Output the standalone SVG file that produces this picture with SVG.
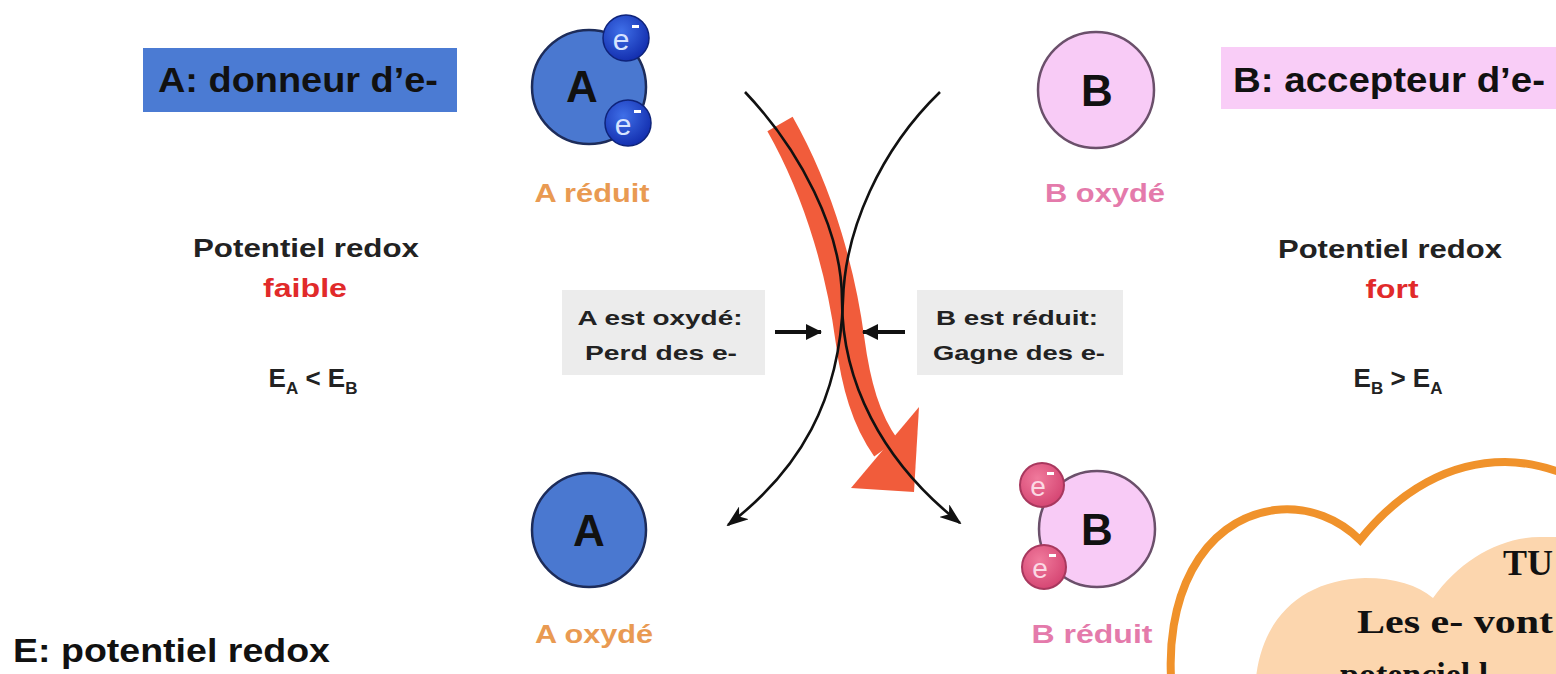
<svg xmlns="http://www.w3.org/2000/svg" width="1556" height="674" viewBox="0 0 1556 674">
  <style>
    .sans { font-family: "Liberation Sans", Arial, sans-serif; font-weight: bold; }
    .serif { font-family: "Liberation Serif", "DejaVu Serif", serif; font-weight: bold; }
    .label { font-size: 35px; fill: #111; }
    .big { font-size: 44px; fill: #111; text-anchor: middle; }
    .state { font-size: 26px; text-anchor: middle; }
    .info { font-size: 26px; fill: #222; text-anchor: middle; }
    .note { font-size: 21px; fill: #222; text-anchor: middle; }
    .red { fill: #e12a2a; }
    .orange { fill: #e99a52; }
    .pink { fill: #e47aab; }
    .elec { font-size: 30px; fill: #d6e3ff; text-anchor: middle; font-family: "Liberation Sans", Arial, sans-serif; }
    .elecp { font-size: 28px; fill: #fbd9e4; text-anchor: middle; font-family: "Liberation Sans", Arial, sans-serif; }
    .curve { fill: none; stroke: #111; stroke-width: 2.6; }
    .ptr { fill: none; stroke: #111; stroke-width: 4; }
  </style>
  <defs>
    <radialGradient id="eBlue" cx="0.4" cy="0.35" r="0.65">
      <stop offset="0" stop-color="#3f6fe8"/>
      <stop offset="1" stop-color="#1430b0"/>
    </radialGradient>
    <radialGradient id="ePink" cx="0.4" cy="0.35" r="0.65">
      <stop offset="0" stop-color="#f07a9c"/>
      <stop offset="1" stop-color="#d64774"/>
    </radialGradient>
    <marker id="head" viewBox="0 0 22 16" refX="20" refY="8" markerWidth="22" markerHeight="16" markerUnits="userSpaceOnUse" orient="auto">
      <path d="M0,0 L22,8 L0,16 L6,8 z" fill="#111"/>
    </marker>
    <marker id="tip" viewBox="0 0 16 16" refX="15" refY="8" markerWidth="16" markerHeight="16" markerUnits="userSpaceOnUse" orient="auto">
      <path d="M0,0 L16,8 L0,16 z" fill="#111"/>
    </marker>
  </defs>

  <rect width="1556" height="674" fill="#ffffff"/>

  <!-- role labels -->
  <g id="label-a">
    <rect x="143" y="48" width="314" height="64" fill="#4b7bd3"/>
    <text class="sans label" x="158" y="92" textLength="280" lengthAdjust="spacingAndGlyphs">A: donneur d’e-</text>
  </g>
  <g id="label-b">
    <rect x="1221" y="47" width="340" height="62" fill="#f9cdf7"/>
    <text class="sans label" x="1233" y="92" textLength="312" lengthAdjust="spacingAndGlyphs">B: accepteur d’e-</text>
  </g>

  <!-- redox potential notes -->
  <g id="potential-a">
    <text class="sans info" x="306" y="257" textLength="226" lengthAdjust="spacingAndGlyphs">Potentiel redox</text>
    <text class="sans info red" x="305" y="297" textLength="84" lengthAdjust="spacingAndGlyphs">faible</text>
    <text class="sans info" x="313" y="387" font-size="28">E<tspan font-size="17" dy="7">A</tspan><tspan dy="-7"> &lt; E</tspan><tspan font-size="17" dy="7">B</tspan></text>
  </g>
  <g id="potential-b">
    <text class="sans info" x="1390" y="258" textLength="224" lengthAdjust="spacingAndGlyphs">Potentiel redox</text>
    <text class="sans info red" x="1392" y="298" textLength="53" lengthAdjust="spacingAndGlyphs">fort</text>
    <text class="sans info" x="1398" y="387" font-size="28">E<tspan font-size="17" dy="7">B</tspan><tspan dy="-7"> &gt; E</tspan><tspan font-size="17" dy="7">A</tspan></text>
  </g>

  <!-- species -->
  <g id="a-reduit">
    <circle cx="589" cy="87" r="57" fill="#4a78d0" stroke="#1d2c5a" stroke-width="2.5"/>
    <text class="sans big" x="582" y="102">A</text>
    <circle cx="626" cy="38" r="23" fill="url(#eBlue)" stroke="#0e237a" stroke-width="1.5"/>
    <text class="elec" x="621" y="50">e</text>
    <rect x="632" y="25" width="7" height="3" fill="#ffffff"/>
    <circle cx="628" cy="123" r="23" fill="url(#eBlue)" stroke="#0e237a" stroke-width="1.5"/>
    <text class="elec" x="623" y="135">e</text>
    <rect x="634" y="110" width="7" height="3" fill="#ffffff"/>
    <text class="sans state orange" x="592" y="202" textLength="115" lengthAdjust="spacingAndGlyphs">A réduit</text>
  </g>

  <g id="b-oxyde">
    <circle cx="1096" cy="90" r="58" fill="#f8cbf6" stroke="#6b506b" stroke-width="2.5"/>
    <text class="sans big" x="1097" y="106">B</text>
    <text class="sans state pink" x="1105" y="202" textLength="120" lengthAdjust="spacingAndGlyphs">B oxydé</text>
  </g>

  <g id="a-oxyde">
    <circle cx="589" cy="530" r="57" fill="#4a78d0" stroke="#1d2c5a" stroke-width="2.5"/>
    <text class="sans big" x="589" y="546">A</text>
    <text class="sans state orange" x="594" y="643" textLength="118" lengthAdjust="spacingAndGlyphs">A oxydé</text>
  </g>

  <g id="b-reduit">
    <circle cx="1097" cy="529" r="58" fill="#f8cbf6" stroke="#6b506b" stroke-width="2.5"/>
    <text class="sans big" x="1097" y="545">B</text>
    <circle cx="1042" cy="485" r="22" fill="url(#ePink)" stroke="#a8385e" stroke-width="2"/>
    <text class="elecp" x="1038" y="496">e</text>
    <rect x="1047" y="472" width="7" height="3" fill="#ffffff"/>
    <circle cx="1044" cy="567" r="22" fill="url(#ePink)" stroke="#a8385e" stroke-width="2"/>
    <text class="elecp" x="1040" y="578">e</text>
    <rect x="1049" y="554" width="7" height="3" fill="#ffffff"/>
    <text class="sans state pink" x="1092" y="643" textLength="121" lengthAdjust="spacingAndGlyphs">B réduit</text>
  </g>

  <!-- transfer notes -->
  <g id="note-a">
    <rect x="562" y="290" width="203" height="85" fill="#ececec"/>
    <text class="sans note" x="660" y="325" textLength="165" lengthAdjust="spacingAndGlyphs">A est oxydé:</text>
    <text class="sans note" x="661" y="360" textLength="152" lengthAdjust="spacingAndGlyphs">Perd des e-</text>
  </g>
  <g id="note-b">
    <rect x="917" y="290" width="206" height="85" fill="#ececec"/>
    <text class="sans note" x="1017" y="325" textLength="162" lengthAdjust="spacingAndGlyphs">B est réduit:</text>
    <text class="sans note" x="1019" y="360" textLength="172" lengthAdjust="spacingAndGlyphs">Gagne des e-</text>
  </g>

  <!-- electron flow and reaction paths -->
  <g id="connectors">
    <path d="M780,124 C822,198 842,280 850,340 C856,385 866,420 886,448" fill="none" stroke="#f15c3b" stroke-width="29"/>
    <polygon points="919,407 851,488 914,492" fill="#f15c3b"/>
    <path class="curve" d="M745,92 C800,150 842,230 842,300 C842,380 880,460 960,523" marker-end="url(#head)"/>
    <path class="curve" d="M940,92 C880,150 845,230 843,300 C840,400 800,470 728,525" marker-end="url(#head)"/>
    <path class="ptr" d="M775,332 L821,332" marker-end="url(#tip)"/>
    <path class="ptr" d="M905,332 L863,332" marker-end="url(#tip)"/>
  </g>

  <!-- reminder heart -->
  <g id="reminder">
    <path d="M1172,690 C1163,600 1200,520 1275,510 C1310,506 1340,520 1360,540 C1400,490 1450,462 1505,462 C1530,462 1550,468 1570,476" fill="none" stroke="#f0922b" stroke-width="8" stroke-linejoin="miter"/>
    <path d="M1255,690 C1258,620 1300,580 1365,578 C1395,578 1418,585 1433,598 C1460,560 1500,537 1540,537 L1570,537 L1570,690 Z" fill="#fcd6ae"/>
    <text class="serif" x="1503" y="575" font-size="36" fill="#111">TU</text>
    <text class="serif" x="1357" y="633" font-size="34" fill="#111" textLength="196" lengthAdjust="spacingAndGlyphs">Les e- vont</text>
    <text class="serif" x="1340" y="686" font-size="34" fill="#111">potenciel l</text>
  </g>

  <g id="legend">
    <text class="sans" x="13" y="662" font-size="34" fill="#111" textLength="317" lengthAdjust="spacingAndGlyphs">E: potentiel redox</text>
  </g>
</svg>
